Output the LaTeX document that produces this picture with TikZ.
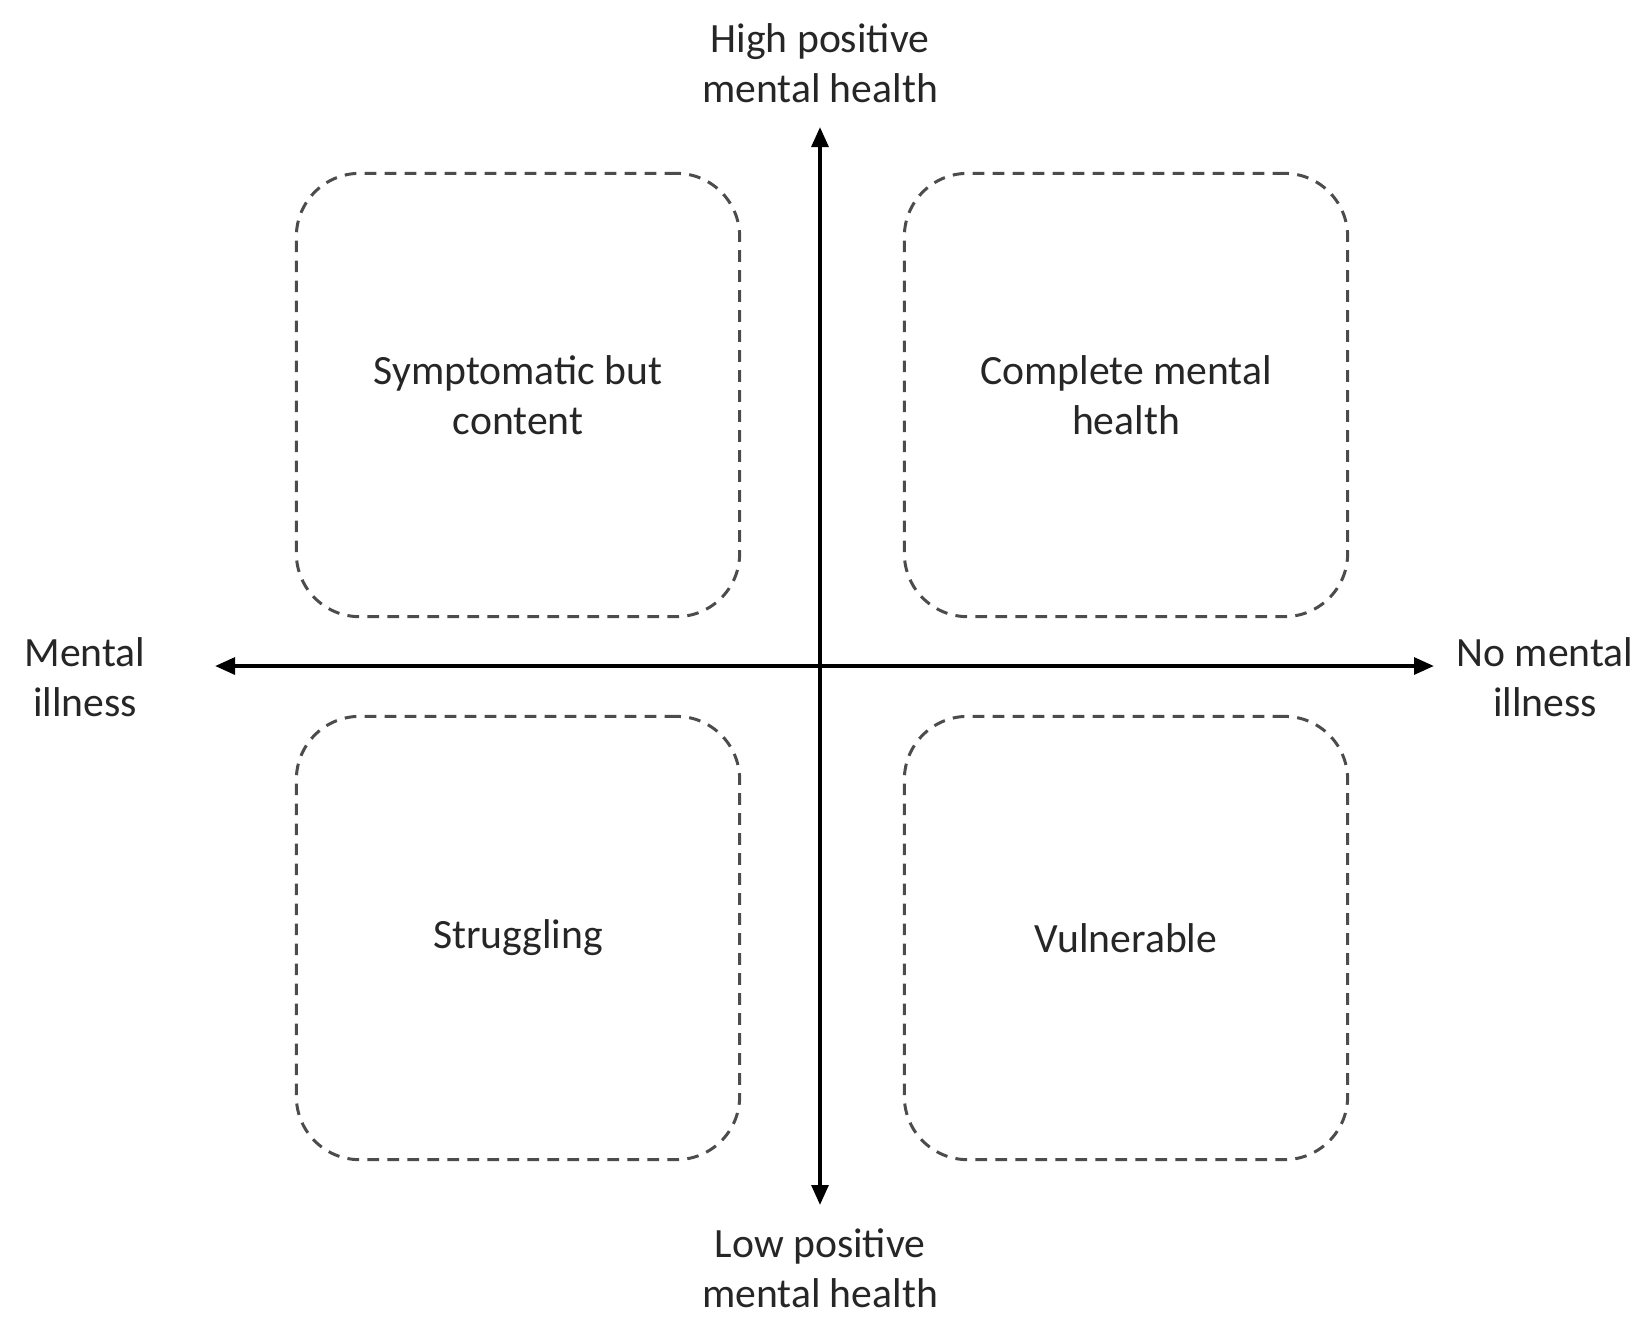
\documentclass[tikz,border=0pt]{standalone}
\usepackage{fontspec}
\setmainfont{Carlito}
\usetikzlibrary{arrows.meta}
\begin{document}
\begin{tikzpicture}[x=0.3pt,y=-0.3pt,
  box/.style={draw=black!70,dash pattern=on 3.5pt off 2.5pt,line width=0.9pt,rounded corners=19pt,minimum width=133pt,minimum height=133pt,align=center,font=\fontsize{12.5}{15}\selectfont,text=black!85},
  lab/.style={align=center,font=\fontsize{12.5}{15}\selectfont,text=black!85},
  axis/.style={line width=1.2pt,-{Triangle[length=6pt,width=5pt]}}]
\useasboundingbox (0,0) rectangle (1649,1319);
\coordinate (c) at (820,666);
\coordinate (xl) at (215,666);
\coordinate (xr) at (1434,666);
\coordinate (yt) at (820,127);
\coordinate (yb) at (820,1205);
\draw[axis] (c) -- (xr);
\draw[axis] (c) -- (xl);
\draw[axis] (c) -- (yt);
\draw[axis] (c) -- (yb);
\node[box] (tl) at (518,395) {Symptomatic but\\content};
\node[box] (tr) at (1126,395) {Complete mental\\health};
\node[box] (bl) at (518,938) {Struggling};
\node[box] (br) at (1126,938) {Vulnerable};
\node[lab] (top) at (820,63) {High positive\\mental health};
\node[lab] (bot) at (820,1268) {Low positive\\mental health};
\node[lab] (lft) at (85,677) {Mental\\illness};
\node[lab] (rgt) at (1545,677) {No mental\\illness};
\end{tikzpicture}
\end{document}
